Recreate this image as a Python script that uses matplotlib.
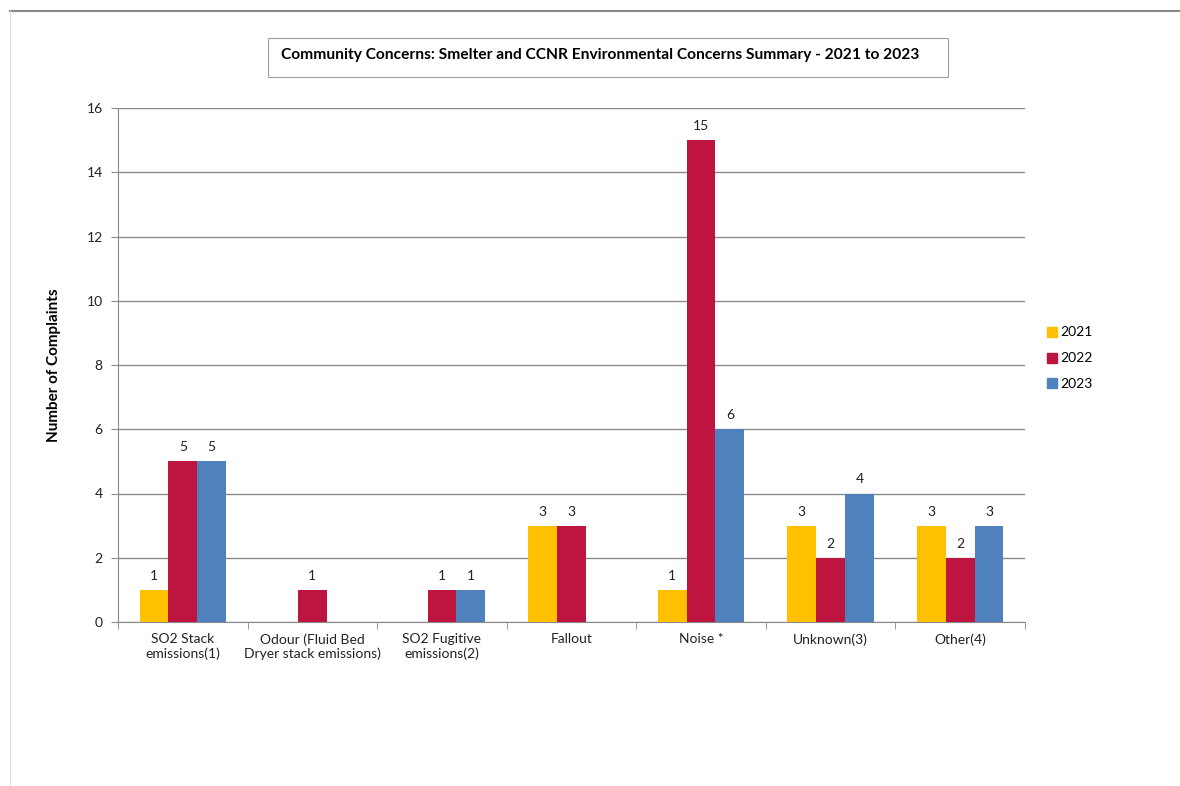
import numpy as np
import matplotlib
matplotlib.use("Agg")
from matplotlib import pyplot as plt
from matplotlib.lines import Line2D

categories = ["SO2 Stack\nemissions(1)", "Odour (Fluid Bed\nDryer stack emissions)",
              "SO2 Fugitive\nemissions(2)", "Fallout", "Noise *", "Unknown(3)", "Other(4)"]
years = ["2021", "2022", "2023"]
v2021 = [1, 0, 0, 3, 1, 3, 3]
v2022 = [5, 1, 1, 3, 15, 2, 2]
v2023 = [5, 0, 1, 0, 6, 4, 3]
colors = ["#FFC000", "#BE1540", "#4F81BD"]

plt.rcParams['font.family'] = ['Lato', 'DejaVu Sans']

fig = plt.figure(figsize=(11.8, 7.86), dpi=100)
ax = fig.add_axes([118/1180, 1-622/786, (1025-118)/1180, (622-108)/786])

x = np.arange(len(categories))
w = 1/4.5
for i, (vals, c, yr) in enumerate(zip([v2021, v2022, v2023], colors, years)):
    xs = x - w + i*w
    for xi, v in zip(xs, vals):
        if v == 0:
            continue
        ax.bar(xi, v, width=w, color=c, zorder=3)
        ax.text(xi, v + 0.25, str(v), ha='center', va='bottom', fontsize=10, color='#222222')

ax.set_xlim(-0.5, len(categories) - 0.5)
ax.set_ylim(0, 16)
ax.set_yticks(range(0, 17, 2))
ax.yaxis.grid(True, color='#8a8a8a', linewidth=1.0, zorder=0)
ax.set_xticks(x)
ax.set_xticklabels(categories, fontsize=10, color='#222222')
ax.set_xticks(np.arange(-0.5, len(categories)), minor=True)
ax.tick_params(axis='x', which='major', length=0, pad=8)
ax.tick_params(axis='x', which='minor', length=5, color='#8a8a8a')
ax.tick_params(axis='y', length=5, color='#8a8a8a', labelsize=10, labelcolor='#222222', pad=6)
for s in ['top', 'right']:
    ax.spines[s].set_visible(False)
for s in ['left', 'bottom']:
    ax.spines[s].set_color('#8a8a8a')
ax.set_ylabel("Number of Complaints", fontsize=11, fontweight='bold', labelpad=18)

handles = [Line2D([], [], marker='s', linestyle='', color=c, markersize=7) for c in colors]
fig.legend(handles, years, loc='upper left', bbox_to_anchor=(1033/1180, 1-314/786),
           frameon=False, fontsize=10, handletextpad=0.1, labelspacing=1.0,
           handlelength=1.0)

# title box
fig.text(600/1180, 1-55/786,
         "Community Concerns: Smelter and CCNR Environmental Concerns Summary - 2021 to 2023",
         ha='center', va='center', fontsize=11.2, fontweight='bold')
fig.patches.append(plt.Rectangle((268/1180, 1-77/786), (948-268)/1180, 39/786,
                                 transform=fig.transFigure, fill=False,
                                 edgecolor='#a0a0a0', linewidth=0.8))

# outer frame lines
fig.add_artist(Line2D([10/1180, 1], [1-10.5/786, 1-10.5/786], color='#888888', linewidth=1.5))
fig.add_artist(Line2D([9.5/1180, 9.5/1180], [0, 1-10.5/786], color='#dddddd', linewidth=0.8))

fig.savefig("out.png", dpi=100)
